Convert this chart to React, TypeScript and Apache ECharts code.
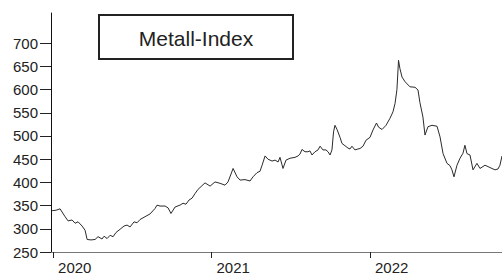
import React, { useEffect, useRef } from "react";
import * as echarts from "echarts";

// Time as decimal years, index values
const times: number[] = [
  2019.994, 2020.019, 2020.044, 2020.076, 2020.095, 2020.12, 2020.139, 2020.158, 2020.183, 2020.202,
  2020.215, 2020.24, 2020.265, 2020.284, 2020.309, 2020.322, 2020.341, 2020.36, 2020.379, 2020.397,
  2020.423, 2020.448, 2020.467, 2020.486, 2020.511, 2020.53, 2020.549, 2020.58, 2020.612, 2020.644,
  2020.656, 2020.675, 2020.707, 2020.726, 2020.744, 2020.77, 2020.801, 2020.82, 2020.839, 2020.858,
  2020.877, 2020.896, 2020.915, 2020.934, 2020.959, 2020.991, 2021.022, 2021.054, 2021.085, 2021.104,
  2021.123, 2021.136, 2021.161, 2021.18, 2021.211, 2021.243, 2021.262, 2021.287, 2021.306, 2021.319,
  2021.338, 2021.356, 2021.382, 2021.401, 2021.42, 2021.432, 2021.451, 2021.47, 2021.495, 2021.527,
  2021.546, 2021.558, 2021.571, 2021.59, 2021.609, 2021.621, 2021.634, 2021.653, 2021.672, 2021.685,
  2021.703, 2021.722, 2021.735, 2021.748, 2021.76, 2021.77, 2021.779, 2021.792, 2021.811, 2021.823,
  2021.842, 2021.861, 2021.874, 2021.886, 2021.905, 2021.924, 2021.937, 2021.956, 2021.975, 2022.0,
  2022.019, 2022.041, 2022.054, 2022.076, 2022.101, 2022.126, 2022.145, 2022.158, 2022.17, 2022.18,
  2022.189, 2022.202, 2022.221, 2022.252, 2022.284, 2022.303, 2022.315, 2022.334, 2022.347, 2022.366,
  2022.391, 2022.423, 2022.442, 2022.461, 2022.486, 2022.505, 2022.517, 2022.53, 2022.549, 2022.568,
  2022.587, 2022.599, 2022.612, 2022.631, 2022.65, 2022.675, 2022.694, 2022.726, 2022.757, 2022.789,
  2022.808, 2022.82, 2022.833,
];

const values: number[] = [
  339, 340, 343, 326, 317, 319, 312, 315, 306, 297,
  277, 276, 277, 283, 278, 284, 279, 286, 283, 292,
  299, 306, 308, 304, 315, 313, 320, 326, 332, 344,
  351, 349, 349, 345, 333, 347, 351, 355, 353, 362,
  366, 376, 385, 391, 399, 392, 401, 398, 394, 401,
  418, 430, 412, 405, 406, 403, 412, 421, 424, 437,
  457, 450, 446, 448, 444, 454, 430, 448, 452, 454,
  457, 461, 471, 466, 466, 468, 459, 466, 470, 478,
  470, 470, 466, 459, 470, 509, 523, 514, 497, 484,
  479, 474, 472, 478, 470, 472, 473, 478, 491, 497,
  513, 528, 519, 514, 523, 538, 552, 570, 600, 663,
  645, 627, 617, 606, 605, 599, 572, 541, 502, 520,
  523, 521, 498, 462, 441, 436, 427, 412, 437, 452,
  463, 480, 462, 459, 427, 441, 430, 437, 432, 427,
  429, 437, 457,
];

const yTicks: number[] = [250, 300, 350, 400, 450, 500, 550, 600, 650, 700];
const xTicks: number[] = [2020, 2021, 2022];
const chartTitle = "Metall-Index";

export default function App() {
  const ref = useRef<HTMLDivElement>(null);

  useEffect(() => {
    if (!ref.current) return;
    const chart = echarts.init(ref.current, undefined, { renderer: "svg" });
    const font = "'Liberation Sans', Arial, sans-serif";
    chart.setOption({
      animation: false,
      backgroundColor: "#ffffff",
      grid: { left: 51, right: 0, top: 13, bottom: 23, containLabel: false },
      xAxis: {
        type: "value",
        min: 2019.987,
        max: 2022.833,
        splitLine: { show: false },
        axisLine: { show: true, lineStyle: { color: "#777777", width: 1 } },
        axisTick: {
          show: true,
          customValues: xTicks,
          length: 6,
          lineStyle: { color: "#222222", width: 1 },
        },
        axisLabel: {
          customValues: xTicks,
          formatter: (v: number) => String(Math.round(v)),
          align: "left",
          padding: [0, 0, 0, 5],
          margin: 8,
          fontSize: 15,
          fontFamily: font,
          color: "#222222",
        },
      },
      yAxis: {
        type: "value",
        min: 250,
        max: 765,
        interval: 50,
        splitLine: { show: false },
        axisLine: { show: true, lineStyle: { color: "#111111", width: 1 } },
        axisTick: {
          show: true,
          customValues: yTicks,
          length: 11,
          lineStyle: { color: "#222222", width: 1 },
        },
        axisLabel: {
          customValues: yTicks,
          margin: 13,
          fontSize: 15,
          fontFamily: font,
          color: "#222222",
        },
      },
      series: [
        {
          type: "line",
          data: times.map((t, i) => [t, values[i]]),
          showSymbol: false,
          symbol: "none",
          lineStyle: { color: "#2a2a2a", width: 1 },
        },
      ],
      graphic: [
        {
          type: "rect",
          shape: { x: 99, y: 15, width: 194, height: 44 },
          style: { fill: "#ffffff", stroke: "#222222", lineWidth: 2 },
          z: 10,
        },
        {
          type: "text",
          x: 196,
          y: 38,
          style: {
            text: chartTitle,
            fontSize: 21,
            fontFamily: font,
            fill: "#222222",
            textAlign: "center",
            textVerticalAlign: "middle",
          },
          z: 11,
        },
      ],
    });
    return () => chart.dispose();
  }, []);

  return (
    <div
      ref={ref}
      style={{ position: "fixed", left: 0, top: 0, width: 502, height: 275 }}
    />
  );
}
